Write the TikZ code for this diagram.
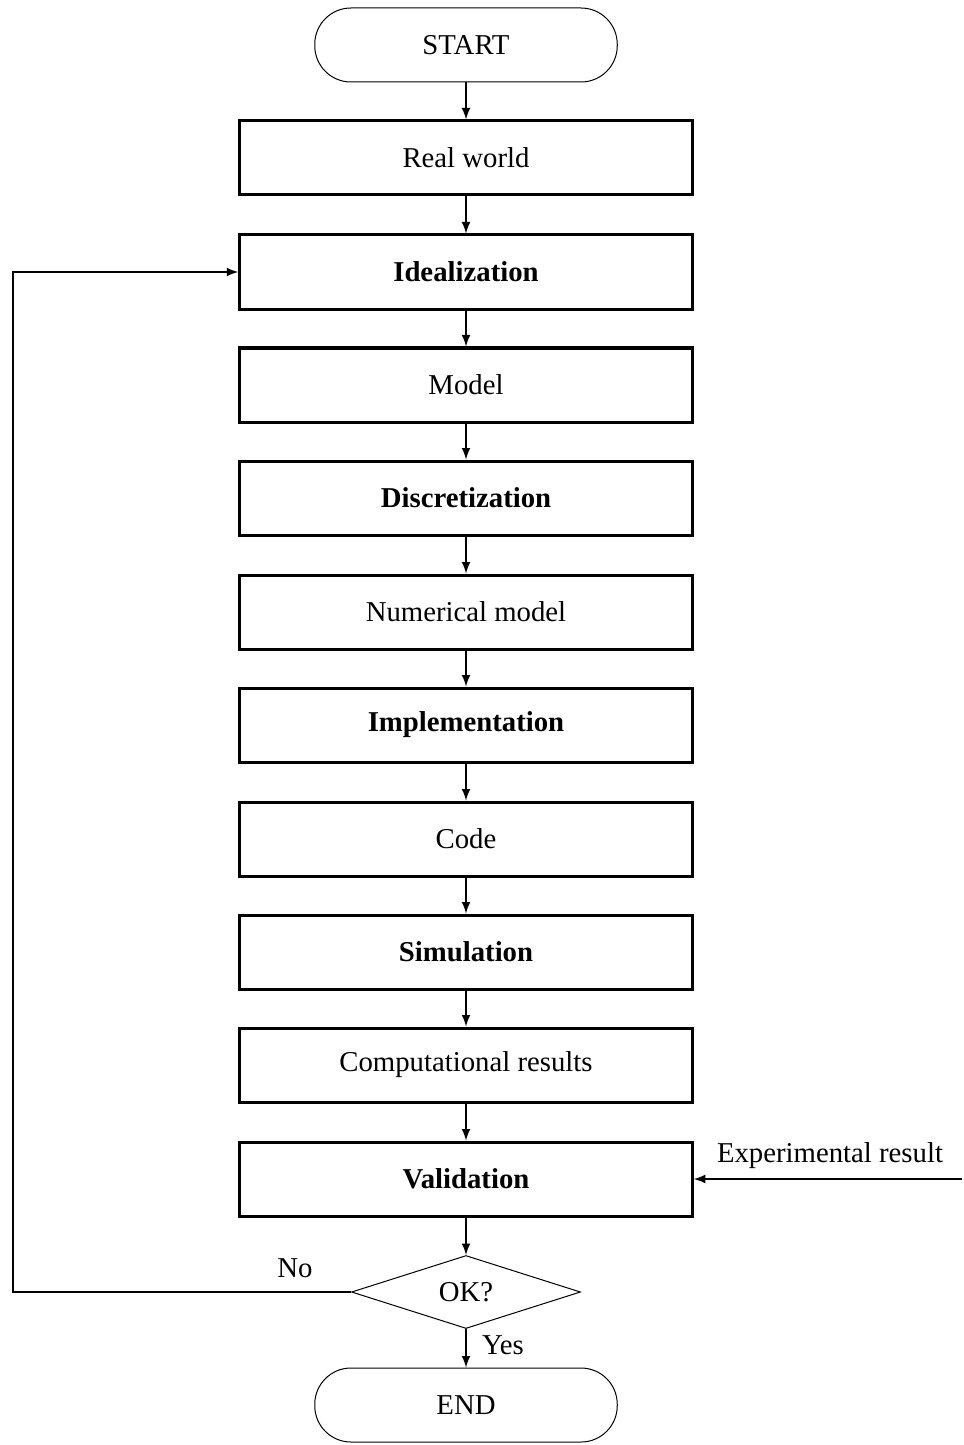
\documentclass[tikz,border=0pt]{standalone}
\usepackage{fontspec}
\setmainfont{Liberation Serif}
\usetikzlibrary{shapes.geometric}

\newcommand*{\colx}{466}
\newcommand*{\loopx}{13}

\begin{document}
\begin{tikzpicture}
[
	termbox/.style={rectangle,rounded corners=14.5pt,draw,thin,minimum width=121pt,minimum height=29.6pt,font=\fontsize{11.5}{14}\selectfont},
	databox/.style={rectangle,draw,line width=1.2pt,minimum width=181pt,minimum height=29.6pt,font=\fontsize{11.5}{14}\selectfont},
	procbox/.style={databox,font=\fontsize{11.5}{14}\selectfont\bfseries},
	decision/.style={diamond,draw,thin,aspect=3.1,inner sep=1pt,minimum width=91.6pt,minimum height=29.2pt,font=\fontsize{11.5}{14}\selectfont},
	label/.style={font=\fontsize{11.5}{14}\selectfont},
	flow/.style={->,>=latex,semithick},
	x=0.4pt,
	y=-0.4pt
]

	\useasboundingbox (0,0) rectangle (964,1445);

	% main column
	\node[termbox] at (\colx,45) (start) {START};
	\node[databox] at (\colx,158) (real) {Real world};
	\node[procbox] at (\colx,272) (ideal) {Idealization};
	\node[databox] at (\colx,385) (model) {Model};
	\node[procbox] at (\colx,498) (discr) {Discretization};
	\node[databox] at (\colx,612) (nummodel) {Numerical model};
	\node[procbox] at (\colx,725) (impl) {Implementation};
	\node[databox] at (\colx,839) (code) {Code};
	\node[procbox] at (\colx,952) (sim) {Simulation};
	\node[databox] at (\colx,1065) (results) {Computational results};
	\node[procbox] at (\colx,1179) (valid) {Validation};
	\node[decision] at (\colx,1292) (ok) {OK?};
	\node[termbox] at (\colx,1405) (end) {END};

	\foreach \a/\b in {start/real,real/ideal,ideal/model,model/discr,discr/nummodel,nummodel/impl,impl/code,code/sim,sim/results,results/valid,valid/ok,ok/end}
		\draw[flow] (\a) -- (\b);

	% answers
	\node[label] at (503,1345) (yes) {Yes};
	\node[label] at (295,1268) (no) {No};

	% loop back
	\coordinate (back) at (\loopx,1292);
	\draw[flow] (ok.west) -- (back) |- (ideal.west);

	% experiment
	\coordinate (exp) at (962,1179);
	\node[label] at (830,1156) (explabel) {Experimental result};
	\draw[flow] (exp) -- (valid.east);

\end{tikzpicture}
\end{document}
